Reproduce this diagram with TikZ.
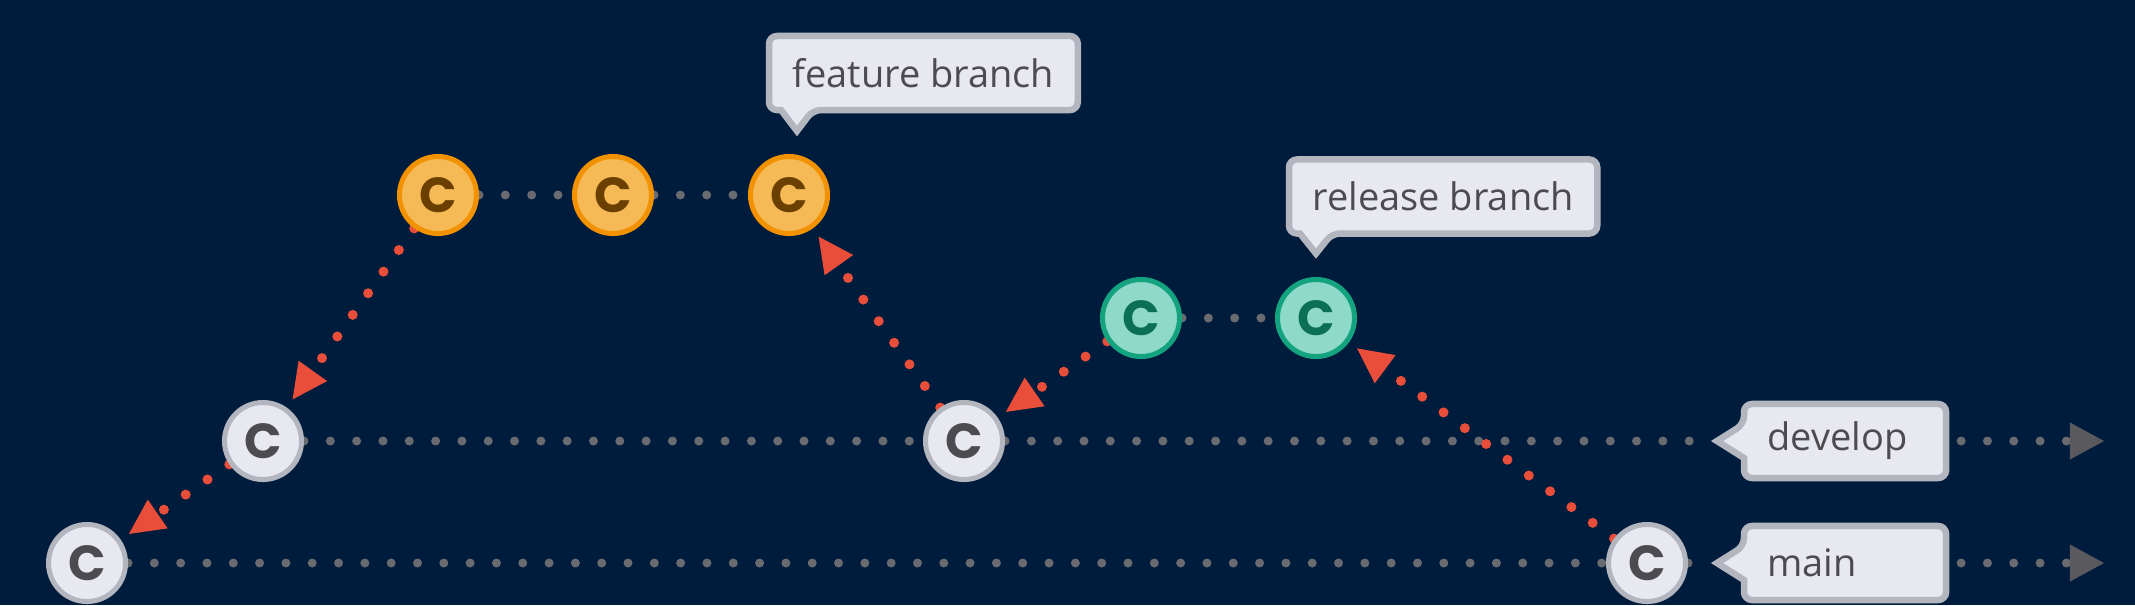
\documentclass[tikz,border=0pt]{standalone}
\usepackage{fontspec}
\setmainfont{Open Sans}
\newfontfamily\commitfont{Poppins}
\usetikzlibrary{arrows.meta, calc}

\definecolor{navy}{HTML}{001C3D}
\definecolor{dotgray}{HTML}{696B70}
\definecolor{tipgray}{HTML}{5A5A5E}
\definecolor{mergered}{HTML}{E84E3A}
\definecolor{cfill}{HTML}{E8E8F0}
\definecolor{cedge}{HTML}{B3B6BE}
\definecolor{ctext}{HTML}{4B4B50}
\definecolor{ffill}{HTML}{F5B955}
\definecolor{fedge}{HTML}{F39200}
\definecolor{ftext}{HTML}{6B3F00}
\definecolor{rfill}{HTML}{8FD9C9}
\definecolor{redge}{HTML}{14A37F}
\definecolor{rtext}{HTML}{0B6F53}

\pgfdeclarelayer{bg}
\pgfdeclarelayer{edges}
\pgfsetlayers{bg,edges,main}

\tikzset{
  commit/.style={circle, minimum size=7.7mm, inner sep=0pt, line width=0.5mm,
    draw=cedge, fill=cfill, text=ctext,
    font=\commitfont\bfseries\fontsize{14pt}{14pt}\selectfont},
  featcommit/.style={commit, draw=fedge, fill=ffill, text=ftext},
  relcommit/.style={commit, draw=redge, fill=rfill, text=rtext},
  lbl/.style={inner xsep=2.35mm, inner ysep=0pt, outer sep=0pt, minimum height=7.4mm,
    align=left, text=ctext, font=\fontsize{10.8pt}{12pt}\selectfont},
  bubble/.style={draw=cedge, fill=cfill, line width=0.65mm},
  trunk/.style={draw=dotgray, line width=0.9mm, line cap=round, dash pattern=on 0pt off 2.63mm},
  trunkend/.style={trunk, shorten <=1.5mm,
    -{Triangle[length=3.4mm, width=3.7mm, line width=0pt, color=tipgray]}},
  merge/.style={draw=mergered, line width=1mm, line cap=round, dash pattern=on 0pt off 2.65mm,
    shorten >=1mm, -{Triangle[length=3.5mm, width=3.5mm, line width=0pt]}}
}

\begin{document}
\begin{tikzpicture}[x=0.01cm, y=-0.01cm]
  \useasboundingbox (0,0) rectangle (2135,605);
  \begin{pgfonlayer}{bg}
    \fill[navy] (0,0) rectangle (2135,605);
  \end{pgfonlayer}

  \node[commit] (m1) at (87,563) {C};
  \node[commit] (d1) at (263,441) {C};
  \node[featcommit] (f1) at (438,195) {C};
  \node[featcommit] (f2) at (613,195) {C};
  \node[featcommit] (f3) at (789,195) {C};
  \node[commit] (d2) at (964,441) {C};
  \node[relcommit] (r1) at (1141,318) {C};
  \node[relcommit] (r2) at (1316,318) {C};
  \node[commit] (m2) at (1647,563) {C};

  \node[lbl, anchor=west] (flbl) at (769,73) {feature branch};
  \node[lbl, anchor=west] (rlbl) at (1289,196.5) {release branch};
  \node[lbl, anchor=west, text width=1.55cm] (dlbl) at (1744,441) {develop};
  \node[lbl, anchor=west, text width=1.55cm] (mlbl) at (1744,563) {main};

  \coordinate (ftip) at ($(flbl.south west)+(28,21)$);
  \coordinate (rtip) at ($(rlbl.south west)+(27,20)$);
  \coordinate (dtip) at ($(dlbl.west)+(-27,0)$);
  \coordinate (mtip) at ($(mlbl.west)+(-27,0)$);
  \coordinate (dend) at (2104,441);
  \coordinate (mend) at (2104,563);

  \begin{pgfonlayer}{edges}
    \draw[trunk] (f1) -- (f2) -- (f3);
    \draw[trunk] (r1) -- (r2);
    \draw[trunk, shorten >=1mm] (d1) -- (d2) -- (dtip);
    \draw[trunk, shorten >=1mm] (m1) -- (m2) -- (mtip);
    \draw[trunkend] (dlbl.east) -- (dend);
    \draw[trunkend] (mlbl.east) -- (mend);

    \draw[merge] (f1) -- (d1);
    \draw[merge] (d1) -- (m1);
    \draw[merge] (d2) -- (f3);
    \draw[merge] (r1) -- (d2);
    \draw[merge] (m2) -- (r2);

    \path[bubble] ($(flbl.south west)+(44,0)$) [sharp corners] -- (ftip) -- ($(flbl.south west)+(12,0)$)
      [rounded corners=0.8mm] -- (flbl.south west) -- (flbl.north west) -- (flbl.north east) -- (flbl.south east) -- cycle;
    \path[bubble] ($(rlbl.south west)+(43,0)$) [sharp corners] -- (rtip) -- ($(rlbl.south west)+(11,0)$)
      [rounded corners=0.8mm] -- (rlbl.south west) -- (rlbl.north west) -- (rlbl.north east) -- (rlbl.south east) -- cycle;
    \path[bubble] ($(dlbl.west)+(0,-17)$) [sharp corners] -- (dtip) -- ($(dlbl.west)+(0,17)$)
      [rounded corners=0.8mm] -- (dlbl.south west) -- (dlbl.south east) -- (dlbl.north east) -- (dlbl.north west) -- cycle;
    \path[bubble] ($(mlbl.west)+(0,-17)$) [sharp corners] -- (mtip) -- ($(mlbl.west)+(0,17)$)
      [rounded corners=0.8mm] -- (mlbl.south west) -- (mlbl.south east) -- (mlbl.north east) -- (mlbl.north west) -- cycle;
  \end{pgfonlayer}
\end{tikzpicture}
\end{document}
